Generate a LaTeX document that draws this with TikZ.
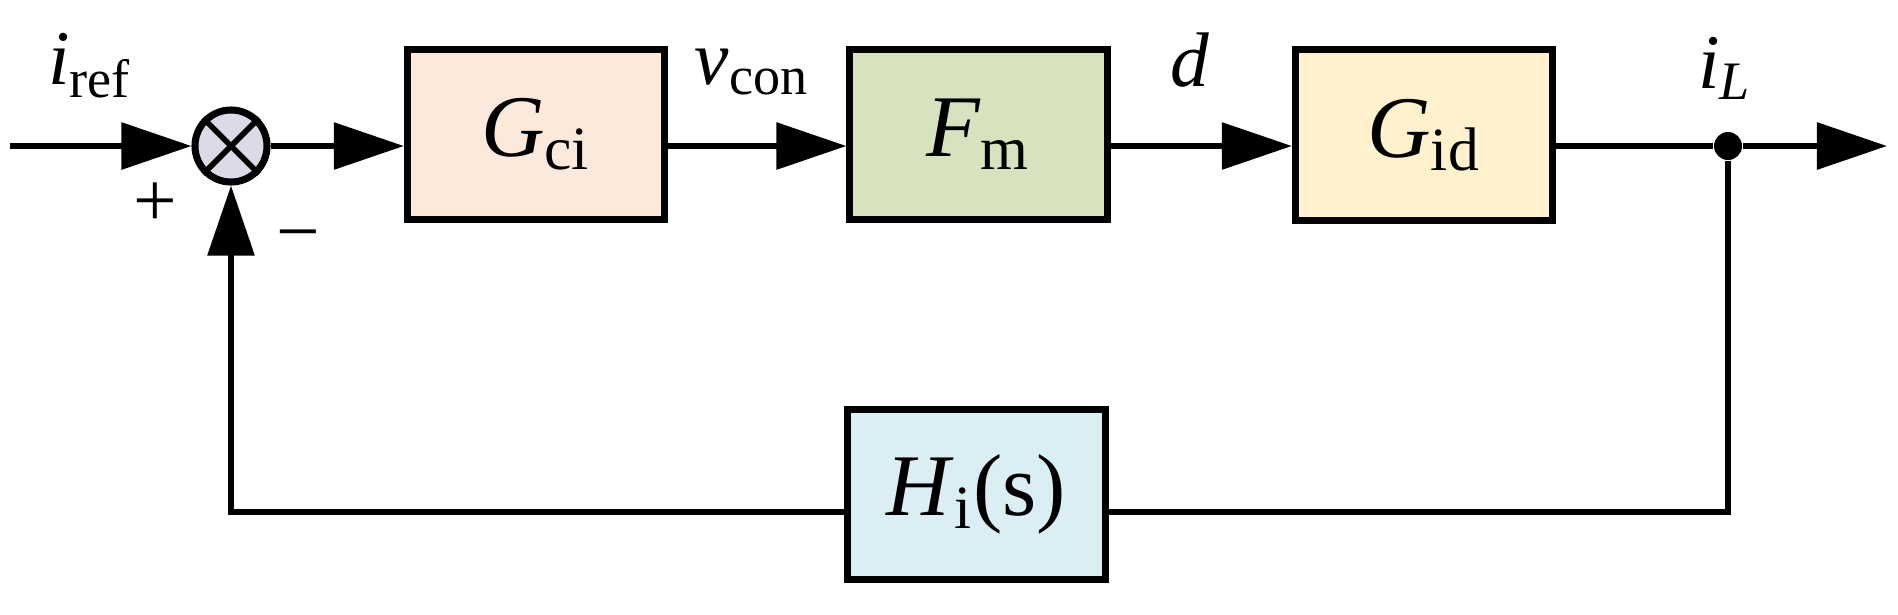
\documentclass[tikz,border=0pt]{standalone}
\usepackage{fontspec}
\setmainfont{Liberation Serif}
\usetikzlibrary{arrows.meta}
\definecolor{ciPeach}{RGB}{251,233,219}
\definecolor{fmGreen}{RGB}{215,227,190}
\definecolor{idCream}{RGB}{255,242,204}
\definecolor{hiBlue}{RGB}{219,238,244}
\definecolor{sumLilac}{RGB}{221,217,230}
\newcommand{\tf}[2]{\textit{#1}\textsubscript{#2}}
\tikzset{
	blk/.style={draw, line width=2pt, minimum width=2.57cm, minimum height=1.70cm, font=\fontsize{25}{28}\selectfont},
	wire/.style={line width=1.7pt},
	sig/.style={wire, -{Triangle[length=0.7cm,width=0.46cm]}},
	lbl/.style={font=\fontsize{22}{26}\selectfont},
}

\begin{document}
\begin{tikzpicture}[x=0.01cm, y=-0.01cm]
		%%%%% START %%%%%
		\useasboundingbox (0, 0) rectangle (1898, 614);
		
		\node[blk, fill=ciPeach] (Gci) at (536, 134.5) {\tf{G}{ci}};
		\node[blk, fill=fmGreen] (Fm) at (978.5, 134.5) {\tf{F}{m}};
		\node[blk, fill=idCream] (Gid) at (1424, 135) {\tf{G}{id}};
		\node[blk, fill=hiBlue] (Hi) at (976.5, 494.5) {\tf{H}{i}(s)};
		
		\node[draw, circle, line width=2pt, fill=sumLilac, minimum size=0.72cm, inner sep=0pt] (sum) at (231, 146) {};
		\draw[line width=1.6pt] (sum.north west) -- (sum.south east) (sum.north east) -- (sum.south west);
		\node[circle, fill=black, minimum size=0.28cm, inner sep=0pt] (jn) at (1728, 146) {};
		
		\coordinate (in) at (10, 146);
		\coordinate (out) at (1887, 146);
		\coordinate (fbR) at (1728, 512);
		\coordinate (fbL) at (231, 512);
		
		\draw[sig] (in) -- (sum.west);
		\draw[sig] (sum.east) -- (sum -| Gci.west);
		\draw[sig] (Gci.east |- sum) -- (Fm.west |- sum);
		\draw[sig] (Fm.east |- sum) -- (Gid.west |- sum);
		\draw[wire] (Gid.east |- sum) -- (jn);
		\draw[sig] (jn) -- (out);
		
		\draw[wire] (jn) -- (fbR) -- (fbR -| Hi.east);
		\draw[sig] (fbR -| Hi.west) -- (fbL) -- (sum.south);
		
		\node[lbl] (iref) at (90, 66) {\tf{i}{ref}};
		\node[lbl] (vcon) at (752, 72) {\tf{v}{con}};
		\node[lbl] (dd) at (1190, 60) {\textit{d}};
		\node[lbl] (iL) at (1725, 68) {\textit{i}\textsubscript{\textit{L}}};
		\node[font=\fontsize{22}{26}\selectfont] (plus) at (155, 205) {+};
		\node[font=\fontsize{22}{26}\selectfont] (minus) at (298, 244) {−};
		
		%%%%% END %%%%%
	\end{tikzpicture}
\end{document}
